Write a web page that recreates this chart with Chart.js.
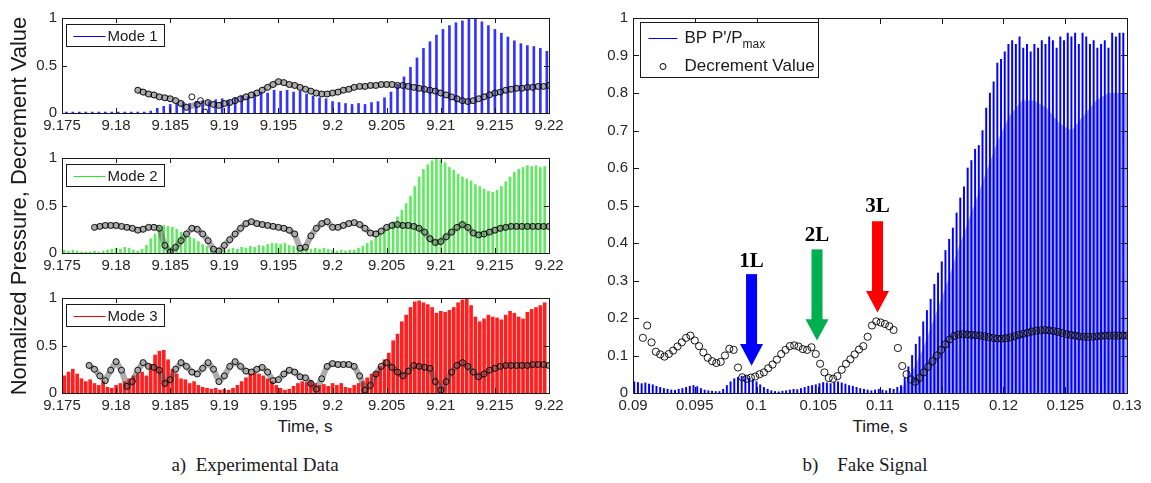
<!DOCTYPE html>
<html>
<head>
<meta charset="utf-8">
<script src="https://cdn.jsdelivr.net/npm/chart.js@4.4.1/dist/chart.umd.min.js"></script>
<style>
  body { margin: 0; background: #fff; width: 1151px; height: 483px; position: relative; overflow: hidden; font-family: "Liberation Sans", Arial, sans-serif; }
  canvas { position: absolute; }
  .lbl { position: absolute; color: #1a1a1a; white-space: pre; text-align: center; }
  .cap { font-family: "Liberation Serif", "Times New Roman", serif; font-size: 19px; }
</style>
</head>
<body>
<canvas id="mode1" width="569" height="131" style="left:0px;top:4px"></canvas>
<canvas id="mode2" width="569" height="131" style="left:0px;top:144px"></canvas>
<canvas id="mode3" width="569" height="131" style="left:0px;top:284px"></canvas>
<canvas id="fake" width="567" height="411" style="left:580px;top:4px"></canvas>

<div class="lbl" style="left:-181px;top:193px;width:400px;font-size:22px;transform:rotate(-90deg);">Nomalized Pressure, Decrement Value</div>
<div class="lbl" style="left:255px;top:417px;width:100px;font-size:17px;">Time, s</div>
<div class="lbl" style="left:830px;top:417px;width:100px;font-size:17px;">Time, s</div>
<div class="lbl cap" style="left:130px;top:454px;width:250px;">a)  Experimental Data</div>
<div class="lbl cap" style="left:740px;top:454px;width:250px;">b)    Fake Signal</div>

<script>
// ---- left panels ----
const leftTicksX = [9.175, 9.22];
const leftTicksY = [0, 0.5, 1];

// Mode 1 pressure peaks, one per cycle
const MODE1_T0 = 9.1754, MODE1_DT = 0.0006;
const mode1Peak = [
  0.01, 0.01, 0.01, 0.01, 0.01, 0.01, 0.01, 0.01, 0.01, 0.01, 0.01, 0.01, 0.01,
  0.02, 0.05, 0.07, 0.09, 0.10, 0.11, 0.10, 0.12, 0.13, 0.12,
  0.14, 0.15, 0.13, 0.16, 0.18, 0.17, 0.20, 0.22, 0.21, 0.24,
  0.23, 0.24, 0.22, 0.23, 0.20, 0.18, 0.16, 0.15, 0.12, 0.11,
  0.10, 0.09, 0.10, 0.09, 0.11, 0.12, 0.16, 0.22, 0.30, 0.38,
  0.48, 0.58, 0.68, 0.75, 0.82, 0.88, 0.92, 0.95, 0.97, 1.00,
  0.99, 0.96, 0.92, 0.88, 0.84, 0.80, 0.76, 0.73, 0.71, 0.70,
  0.68, 0.65
];
const DEC1_T0 = 9.182, DEC1_DT = 0.0005;
const mode1Dec = [
  0.24, 0.22, 0.20, 0.19, 0.17, 0.16, 0.15, 0.13, 0.10, 0.06,
  null, 0.09, null, 0.11, 0.09, 0.08, 0.10, 0.11, 0.13, 0.15,
  0.17, 0.19, 0.21, 0.24, 0.27, 0.30, 0.33, 0.32, 0.30, 0.29,
  0.27, 0.25, 0.23, 0.21, 0.20, 0.20, 0.21, 0.22, 0.24, 0.25,
  0.27, 0.28, 0.28, 0.29, 0.29, 0.30, 0.30, 0.30, 0.29, 0.29,
  0.28, 0.27, 0.26, 0.25, 0.24, 0.23, 0.21, 0.19, 0.17, 0.15,
  0.13, 0.12, 0.13, 0.15, 0.17, 0.19, 0.21, 0.22, 0.24, 0.25,
  0.26, 0.26, 0.27, 0.27, 0.28, 0.28, 0.29
];
// stray decrement points off the main trend
const mode1StrayT = [9.1870, 9.1878, 9.1882];
const mode1StrayV = [0.17, 0.13, 0.01];

// Mode 2
const MODE2_T0 = 9.1752, MODE2_DT = 0.0004;
const mode2Peak = [
  0.03, 0.02, 0.03, 0.02, 0.01,
  0.01, 0.01, 0.02, 0.01, 0.02, 0.03, 0.04,
  0.05, 0.04, 0.06, 0.05, 0.03, 0.02, 0.04, 0.08,
  0.15, 0.20, 0.27, 0.29, 0.28, 0.27, 0.25, 0.22,
  0.20, 0.17, 0.15, 0.12, 0.09, 0.07, 0.05, 0.03,
  0.02, 0.03, 0.04, 0.05, 0.04, 0.06, 0.05, 0.07,
  0.06, 0.08, 0.07, 0.09, 0.10, 0.10, 0.09, 0.10,
  0.08, 0.07, 0.05, 0.04, 0.05, 0.04, 0.05, 0.04,
  0.05, 0.04, 0.03, 0.02, 0.03, 0.02, 0.03, 0.03,
  0.05, 0.07, 0.10, 0.13, 0.17, 0.20, 0.24, 0.28,
  0.33, 0.38, 0.45, 0.52, 0.60, 0.70, 0.80, 0.88,
  0.93, 0.97, 1.00, 0.98, 0.95, 0.90, 0.87, 0.83,
  0.80, 0.78, 0.76, 0.72, 0.70, 0.67, 0.65, 0.64,
  0.66, 0.70, 0.75, 0.80, 0.85, 0.88, 0.90, 0.92,
  0.91, 0.92, 0.90, 0.91
];
const DEC2_T0 = 9.178, DEC2_DT = 0.0005;
const mode2Dec = [
  0.27, 0.28, 0.29, 0.29, 0.29, 0.28, 0.27, 0.26, 0.24, 0.25,
  0.27, 0.27, 0.26, 0.08, 0.01, 0.06, 0.13, 0.20, 0.26, 0.25,
  0.20, 0.13, 0.04, 0.02, 0.08, 0.14, 0.20, 0.26, 0.31, 0.33,
  0.31, 0.30, 0.29, 0.28, 0.27, 0.26, 0.24, 0.20, 0.05, 0.06,
  0.18, 0.26, 0.31, 0.33, 0.27, 0.27, 0.29, 0.31, 0.32, 0.30,
  0.26, 0.21, 0.20, 0.23, 0.27, 0.29, 0.30, 0.29, 0.29, 0.28,
  0.26, 0.22, 0.15, 0.11, 0.12, 0.17, 0.22, 0.27, 0.30, 0.27,
  0.21, 0.19, 0.20, 0.22, 0.24, 0.26, 0.27, 0.28, 0.28, 0.28,
  0.28, 0.28, 0.28, 0.28, 0.28
];

// Mode 3
const MODE3_T0 = 9.1752, MODE3_DT = 0.0004;
const mode3Peak = [
  0.18, 0.22, 0.25, 0.20, 0.15, 0.12, 0.14, 0.10,
  0.08, 0.12, 0.06, 0.05, 0.08, 0.10, 0.12, 0.15,
  0.18, 0.20, 0.22, 0.18, 0.30, 0.40, 0.44, 0.45,
  0.35, 0.25, 0.20, 0.15, 0.14, 0.10, 0.12, 0.08,
  0.06, 0.05, 0.04, 0.05, 0.03, 0.04, 0.03, 0.05,
  0.08, 0.12, 0.16, 0.20, 0.21, 0.20, 0.18, 0.15,
  0.12, 0.08, 0.05, 0.03, 0.04, 0.07, 0.10, 0.12,
  0.11, 0.13, 0.10, 0.08, 0.09, 0.07, 0.10, 0.08,
  0.10, 0.06, 0.05, 0.08, 0.10, 0.12, 0.16, 0.20,
  0.22, 0.28, 0.35, 0.42, 0.55, 0.62, 0.75, 0.82,
  0.90, 0.96, 0.97, 0.95, 0.93, 0.90, 0.84, 0.86,
  0.85, 0.87, 0.90, 0.95, 0.98, 1.00, 0.92, 0.80,
  0.75, 0.78, 0.82, 0.80, 0.79, 0.77, 0.82, 0.86,
  0.84, 0.80, 0.78, 0.85, 0.88, 0.90, 0.92, 0.95
];
const DEC3_T0 = 9.1775, DEC3_DT = 0.0005;
const mode3Dec = [
  0.29, 0.25, 0.18, 0.13, 0.24, 0.33, 0.24, 0.07, 0.12, 0.24,
  0.32, 0.28, 0.27, 0.24, 0.10, 0.14, 0.25, 0.32, 0.28, 0.22,
  0.20, 0.26, 0.32, 0.25, 0.12, 0.18, 0.28, 0.33, 0.28, 0.23,
  0.22, 0.25, 0.27, 0.22, 0.13, 0.14, 0.20, 0.24, 0.22, 0.17,
  0.16, 0.10, 0.04, 0.15, 0.28, 0.31, 0.30, 0.30, 0.30, 0.28,
  0.18, 0.03, 0.08, 0.20, 0.28, 0.32, 0.27, 0.22, 0.18, 0.23,
  0.29, 0.28, 0.27, 0.26, 0.12, 0.03, 0.12, 0.22, 0.29, 0.32,
  0.28, 0.22, 0.17, 0.20, 0.24, 0.26, 0.28, 0.29, 0.29, 0.29,
  0.29, 0.29, 0.30, 0.30, 0.30, 0.29
];

// ---- right panel: fake signal ----
const BP_T0 = 0.0901, BP_DT = 0.0003;
const bpPeak = [
  0.030, 0.028, 0.025, 0.027, 0.024, 0.022,
  0.018, 0.015, 0.012, 0.010, 0.008, 0.007,
  0.010, 0.012, 0.015, 0.018, 0.020, 0.017,
  0.012, 0.008, 0.006, 0.005, 0.004, 0.004,
  0.010, 0.020, 0.030, 0.038, 0.042, 0.045,
  0.045, 0.040, 0.035, 0.030, 0.022, 0.015,
  0.010, 0.006, 0.004, 0.003, 0.005, 0.006,
  0.008, 0.010, 0.009, 0.012, 0.015, 0.018,
  0.020, 0.022, 0.025, 0.028, 0.027, 0.025,
  0.028, 0.030, 0.027, 0.024, 0.020, 0.018,
  0.015, 0.012, 0.010, 0.008, 0.006, 0.008,
  0.010, 0.008, 0.006, 0.012, 0.010, 0.015,
  0.02, 0.04, 0.07, 0.10, 0.13, 0.15, 0.19, 0.22, 0.25, 0.29,
  0.32, 0.35, 0.38, 0.41, 0.44, 0.48, 0.52, 0.55, 0.60, 0.62,
  0.65, 0.66, 0.70, 0.76, 0.80, 0.83, 0.88, 0.89, 0.91, 0.93,
  0.94, 0.93, 0.95, 0.92, 0.93, 0.91, 0.93, 0.92, 0.94, 0.93,
  0.95, 0.94, 0.92, 0.95, 0.94, 0.96, 0.95, 0.96, 0.93, 0.96,
  0.95, 0.93, 0.94, 0.92, 0.93, 0.94, 0.92, 0.96, 0.95, 0.96,
  0.96
];
// lighter dense part under the peaks
const bpFillTime = [0.1115, 0.1125, 0.1135, 0.1145, 0.1155, 0.1165, 0.1175, 0.1185, 0.1195, 0.1205,
                    0.1215, 0.1225, 0.1235, 0.1245, 0.1255, 0.1265, 0.1275, 0.1285, 0.1295, 0.1300];
const bpFillLevel = [0.00, 0.05, 0.12, 0.21, 0.30, 0.40, 0.49, 0.58, 0.67, 0.74,
                     0.78, 0.78, 0.76, 0.72, 0.70, 0.74, 0.78, 0.80, 0.80, 0.80];

const DECB_T0 = 0.0908, DECB_DT = 0.00035;
const fakeDec = [
  0.147, 0.180, 0.135, 0.110, 0.103, 0.097, 0.104, 0.113, 0.124, 0.135,
  0.147, 0.153, 0.140, 0.125, 0.108, 0.094, 0.085, 0.080, 0.083, 0.100,
  0.118, 0.115, 0.068, 0.042, 0.038, 0.041, 0.044, 0.050, 0.055, 0.066,
  0.076, 0.089, 0.104, 0.115, 0.125, 0.127, 0.124, 0.117, 0.115, 0.122,
  0.104, 0.078, 0.055, 0.040, 0.038, 0.045, 0.062, 0.078, 0.090, 0.103,
  0.116, 0.125, 0.150, 0.180, 0.191, 0.188, 0.184, 0.178, 0.168, 0.120,
  0.072, 0.050, 0.036, 0.030, 0.040, 0.055, 0.070, 0.085, 0.100, 0.115,
  0.130, 0.143, 0.152, 0.156, 0.157, 0.156, 0.155, 0.154, 0.153, 0.151,
  0.149, 0.147, 0.145, 0.145, 0.146, 0.148, 0.151, 0.155, 0.158, 0.161,
  0.164, 0.166, 0.167, 0.168, 0.167, 0.165, 0.163, 0.160, 0.157, 0.155,
  0.153, 0.151, 0.150, 0.150, 0.150, 0.151, 0.152, 0.153, 0.153, 0.153,
  0.153, 0.153, 0.153
];

// arrow annotations (data units)
const arrowLabels = ['1L', '2L', '3L'];
const arrowTime = [0.0996, 0.1049, 0.1098];
const arrowTop = [0.317, 0.383, 0.458];
const arrowNeck = [0.131, 0.197, 0.272];
const arrowTip = [0.073, 0.140, 0.215];
const arrowText = [0.350, 0.420, 0.497];
const arrowColors = ['#0000ff', '#00b050', '#ff0000'];

Chart.defaults.font.family = '"Liberation Sans", Arial, sans-serif';
Chart.defaults.font.size = 15;
Chart.defaults.color = '#262626';

function series(vals, t0, dt) {
  return vals.map((v, i) => ({ x: t0 + i * dt, y: v }));
}
const fmt = v => String(parseFloat(Number(v).toFixed(4)));

// per-canvas decoration settings (kept out of Chart options)
const boxConfig = {
  mode1: { tick: 5, legend: { dx: 4, dy: 6, w: 98, h: 22, lineX0: 7, lineX1: 39, textX: 41,
           font: '15px "Liberation Sans", Arial, sans-serif',
           items: [{ kind: 'line', color: '#0000ff', text: 'Mode 1', dy: 11 }] } },
  mode2: { tick: 5, legend: { dx: 4, dy: 6, w: 98, h: 22, lineX0: 7, lineX1: 39, textX: 41,
           font: '15px "Liberation Sans", Arial, sans-serif',
           items: [{ kind: 'line', color: '#22ee22', text: 'Mode 2', dy: 11 }] } },
  mode3: { tick: 5, legend: { dx: 4, dy: 6, w: 98, h: 22, lineX0: 7, lineX1: 39, textX: 41,
           font: '15px "Liberation Sans", Arial, sans-serif',
           items: [{ kind: 'line', color: '#ff0000', text: 'Mode 3', dy: 11 }] } },
  fake: {
    tick: 6,
    arrows: arrowLabels.map((l, i) => ({
      label: l, t: arrowTime[i], top: arrowTop[i], neck: arrowNeck[i],
      tip: arrowTip[i], text: arrowText[i], color: arrowColors[i]
    })),
    legend: { dx: 7, dy: 4, w: 178, h: 55, lineX0: 8, lineX1: 37, textX: 44,
              font: '17px "Liberation Sans", Arial, sans-serif',
              subFont: '12px "Liberation Sans", Arial, sans-serif',
              items: [
                { kind: 'line', color: '#0000ff', text: "BP P'/P", sub: 'max', dy: 15 },
                { kind: 'marker', text: 'Decrement Value', dy: 43 }
              ] }
  }
};

// MATLAB-like box, inward ticks, legend, arrows
const matlabBox = {
  id: 'matlabBox',
  afterDraw(chart) {
    const opts = boxConfig[chart.canvas.id];
    const { ctx, chartArea: a, scales } = chart;
    const x = scales.x, y = scales.y;
    const len = opts.tick;
    ctx.save();
    ctx.strokeStyle = '#1a1a1a';
    ctx.lineWidth = 1;
    ctx.beginPath();
    x.ticks.forEach(t => {
      const px = Math.round(x.getPixelForValue(t.value)) + 0.5;
      ctx.moveTo(px, a.bottom); ctx.lineTo(px, a.bottom - len);
      ctx.moveTo(px, a.top); ctx.lineTo(px, a.top + len);
    });
    y.ticks.forEach(t => {
      const py = Math.round(y.getPixelForValue(t.value)) + 0.5;
      ctx.moveTo(a.left, py); ctx.lineTo(a.left + len, py);
      ctx.moveTo(a.right, py); ctx.lineTo(a.right - len, py);
    });
    ctx.stroke();
    ctx.strokeRect(Math.round(a.left) + 0.5, Math.round(a.top) + 0.5,
                   Math.round(a.right - a.left), Math.round(a.bottom - a.top));

    (opts.arrows || []).forEach(ar => {
      const cx = x.getPixelForValue(ar.t);
      const yTop = y.getPixelForValue(ar.top), yNeck = y.getPixelForValue(ar.neck), yTip = y.getPixelForValue(ar.tip);
      ctx.fillStyle = ar.color;
      ctx.fillRect(cx - 5.5, yTop, 11, yNeck - yTop + 1);
      ctx.beginPath();
      ctx.moveTo(cx - 11.5, yNeck);
      ctx.lineTo(cx + 11.5, yNeck);
      ctx.lineTo(cx, yTip);
      ctx.closePath();
      ctx.fill();
      ctx.fillStyle = '#000';
      ctx.font = 'bold 21px "Liberation Serif", serif';
      ctx.textAlign = 'center';
      ctx.textBaseline = 'middle';
      ctx.fillText(ar.label, cx, y.getPixelForValue(ar.text));
    });

    const lg = opts.legend;
    if (lg) {
      const x0 = Math.round(a.left + lg.dx) + 0.5, y0 = Math.round(a.top + lg.dy) + 0.5;
      ctx.fillStyle = '#fff';
      ctx.fillRect(x0, y0, lg.w, lg.h);
      ctx.strokeStyle = '#1a1a1a';
      ctx.strokeRect(x0, y0, lg.w, lg.h);
      ctx.textAlign = 'left';
      ctx.textBaseline = 'middle';
      lg.items.forEach(it => {
        const ry = Math.round(y0 + it.dy) + 0.5;
        ctx.lineWidth = 1;
        if (it.kind === 'line') {
          ctx.strokeStyle = it.color;
          ctx.beginPath();
          ctx.moveTo(x0 + lg.lineX0, ry); ctx.lineTo(x0 + lg.lineX1, ry);
          ctx.stroke();
        } else {
          ctx.strokeStyle = '#000';
          ctx.beginPath();
          ctx.arc(x0 + (lg.lineX0 + lg.lineX1) / 2, ry, 3, 0, Math.PI * 2);
          ctx.stroke();
        }
        ctx.fillStyle = '#1a1a1a';
        ctx.font = lg.font;
        ctx.fillText(it.text, x0 + lg.textX, ry);
        if (it.sub) {
          const w = ctx.measureText(it.text).width;
          ctx.font = lg.subFont;
          ctx.fillText(it.sub, x0 + lg.textX + w, ry + 6);
        }
      });
    }
    ctx.restore();
  }
};

function circles(data, r) {
  return {
    type: 'line', data: data, showLine: false, pointRadius: r, pointBorderWidth: 1,
    pointBorderColor: 'rgba(0,0,0,0.9)', pointBackgroundColor: 'rgba(0,0,0,0)', order: 0
  };
}
function band(data, from) {
  return {
    type: 'line', data: data, borderWidth: 6, pointRadius: 0, spanGaps: true, tension: 0,
    borderColor: 'rgba(70,70,70,0.45)', borderCapStyle: 'round', borderJoinStyle: 'round',
    segment: { borderColor: c => (c.p0.parsed.x < from ? 'rgba(0,0,0,0)' : undefined) },
    order: 0.5
  };
}

function leftPanel(id, peaks, t0, dt, dec, d0, ddt, extra, barColor, barWidth) {
  const decData = series(dec, d0, ddt);
  const datasets = [
    circles(decData, 3),
    band(decData, 0),
    { type: 'bar', data: series(peaks, t0, dt), backgroundColor: barColor,
      barThickness: barWidth, grouped: false, order: 1 }
  ];
  if (extra) datasets.push(circles(extra, 3));
  new Chart(document.getElementById(id), {
    type: 'bar',
    data: { datasets },
    options: {
      responsive: false, animation: false, events: [],
      layout: { padding: { top: 10, right: 20, left: 0, bottom: 0 } },
      plugins: { legend: { display: false }, tooltip: { enabled: false } },
      scales: {
        x: {
          type: 'linear', min: leftTicksX[0], max: leftTicksX[1], offset: false,
          grid: { display: false, drawTicks: false, offset: false }, border: { display: false },
          ticks: { stepSize: 0.005, autoSkip: false, maxRotation: 0, padding: 4, callback: fmt },
          afterFit: s => { s.height = 22; }
        },
        y: {
          min: leftTicksY[0], max: leftTicksY[2],
          grid: { display: false, drawTicks: false }, border: { display: false },
          ticks: { stepSize: 0.5, padding: 5, callback: fmt },
          afterFit: s => { s.width = 62; }
        }
      }
    },
    plugins: [matlabBox]
  });
}

leftPanel('mode1', mode1Peak, MODE1_T0, MODE1_DT, mode1Dec, DEC1_T0, DEC1_DT,
          mode1StrayT.map((t, i) => ({ x: t, y: mode1StrayV[i] })), 'rgba(0,0,255,0.8)', 2);
leftPanel('mode2', mode2Peak, MODE2_T0, MODE2_DT, mode2Dec, DEC2_T0, DEC2_DT,
          null, 'rgba(30,225,30,0.7)', 2);
leftPanel('mode3', mode3Peak, MODE3_T0, MODE3_DT, mode3Dec, DEC3_T0, DEC3_DT,
          null, 'rgba(255,0,0,0.88)', 3);

const fakeDecData = series(fakeDec, DECB_T0, DECB_DT);
new Chart(document.getElementById('fake'), {
  type: 'bar',
  data: {
    datasets: [
      circles(fakeDecData, 3.6),
      band(fakeDecData, 0.1128),
      { type: 'bar', data: series(bpPeak, BP_T0, BP_DT), backgroundColor: '#0000ff',
        barThickness: 1.3, grouped: false, order: 1 },
      { type: 'line', data: bpFillTime.map((t, i) => ({ x: t, y: bpFillLevel[i] })),
        borderWidth: 0, pointRadius: 0, fill: 'origin', tension: 0,
        backgroundColor: 'rgba(130,130,255,0.7)', order: 2 }
    ]
  },
  options: {
    responsive: false, animation: false, events: [],
    layout: { padding: { top: 10, right: 20, left: 0, bottom: 0 } },
    plugins: { legend: { display: false }, tooltip: { enabled: false } },
    scales: {
      x: {
        type: 'linear', min: 0.09, max: 0.13, offset: false,
        grid: { display: false, drawTicks: false, offset: false }, border: { display: false },
        ticks: { stepSize: 0.005, autoSkip: false, maxRotation: 0, padding: 4, callback: fmt },
        afterFit: s => { s.height = 22; }
      },
      y: {
        min: 0, max: 1,
        grid: { display: false, drawTicks: false }, border: { display: false },
        ticks: { stepSize: 0.1, padding: 5, callback: fmt },
        afterFit: s => { s.width = 53; }
      }
    }
  },
  plugins: [matlabBox]
});
</script>
</body>
</html>
